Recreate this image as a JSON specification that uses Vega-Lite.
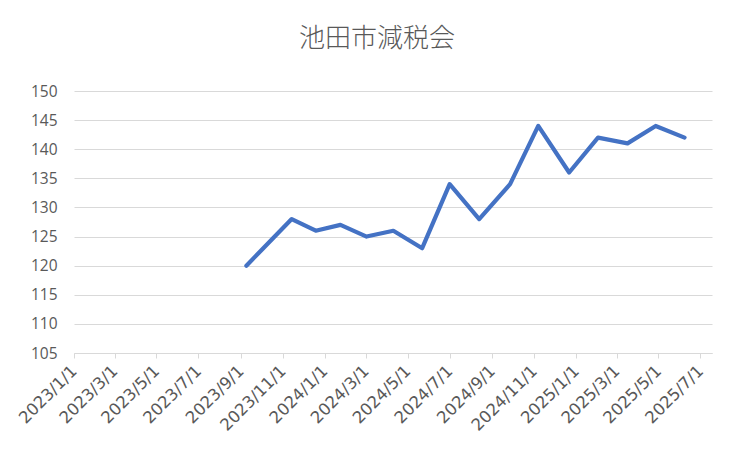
{
  "$schema": "https://vega.github.io/schema/vega-lite/v6.json",
  "autosize": {"type": "none"},
  "width": 638,
  "height": 262,
  "padding": {"left": 74, "top": 91, "right": 40, "bottom": 99},
  "background": "white",
  "title": {
    "text": "池田市減税会",
    "font": "Noto Sans CJK JP",
    "fontSize": 26,
    "fontWeight": 300,
    "color": "#595959",
    "anchor": "middle",
    "dx": -16,
    "dy": 31,
    "baseline": "alphabetic",
    "offset": 42
  },
  "config": {"view": {"stroke": null}},
  "data": {
    "values": [
      {"date": "2023/09/09", "value": 120},
      {"date": "2023/11/14", "value": 128},
      {"date": "2023/12/19", "value": 126},
      {"date": "2024/01/24", "value": 127},
      {"date": "2024/03/02", "value": 125},
      {"date": "2024/04/10", "value": 126},
      {"date": "2024/05/22", "value": 123},
      {"date": "2024/07/01", "value": 134},
      {"date": "2024/08/13", "value": 128},
      {"date": "2024/09/27", "value": 134},
      {"date": "2024/11/07", "value": 144},
      {"date": "2024/12/22", "value": 136},
      {"date": "2025/02/02", "value": 142},
      {"date": "2025/03/17", "value": 141},
      {"date": "2025/04/27", "value": 144},
      {"date": "2025/06/08", "value": 142}
    ]
  },
  "mark": {"type": "line", "color": "#4472C4", "strokeWidth": 4.2, "strokeCap": "round", "strokeJoin": "round"},
  "encoding": {
    "x": {
      "field": "date",
      "type": "temporal",
      "scale": {"domain": [{"year": 2023, "month": 1, "date": 1}, {"year": 2025, "month": 7, "date": 18}], "nice": false},
      "axis": {
        "title": null,
        "format": "%Y/%-m/%-d",
        "values": [
          {"year": 2023, "month": 1, "date": 1},
          {"year": 2023, "month": 3, "date": 1},
          {"year": 2023, "month": 5, "date": 1},
          {"year": 2023, "month": 7, "date": 1},
          {"year": 2023, "month": 9, "date": 1},
          {"year": 2023, "month": 11, "date": 1},
          {"year": 2024, "month": 1, "date": 1},
          {"year": 2024, "month": 3, "date": 1},
          {"year": 2024, "month": 5, "date": 1},
          {"year": 2024, "month": 7, "date": 1},
          {"year": 2024, "month": 9, "date": 1},
          {"year": 2024, "month": 11, "date": 1},
          {"year": 2025, "month": 1, "date": 1},
          {"year": 2025, "month": 3, "date": 1},
          {"year": 2025, "month": 5, "date": 1},
          {"year": 2025, "month": 7, "date": 1}
        ],
        "grid": false,
        "domainColor": "#d9d9d9",
        "domainWidth": 1,
        "tickColor": "#d9d9d9",
        "tickSize": 5,
        "labelAngle": -45,
        "labelAlign": "right",
        "labelBaseline": "middle",
        "labelPadding": 10,
        "labelFont": "DejaVu Sans",
        "labelFontSize": 16.5,
        "labelColor": "#595959",
        "labelOverlap": false,
        "labelFlush": false
      }
    },
    "y": {
      "field": "value",
      "type": "quantitative",
      "scale": {"domain": [105, 150], "nice": false, "zero": false},
      "axis": {
        "title": null,
        "values": [105, 110, 115, 120, 125, 130, 135, 140, 145, 150],
        "domain": false,
        "ticks": false,
        "gridColor": "#d9d9d9",
        "gridWidth": 1,
        "labelPadding": 17,
        "labelFont": "Open Sans",
        "labelFontSize": 15.5,
        "labelColor": "#595959"
      }
    }
  }
}
